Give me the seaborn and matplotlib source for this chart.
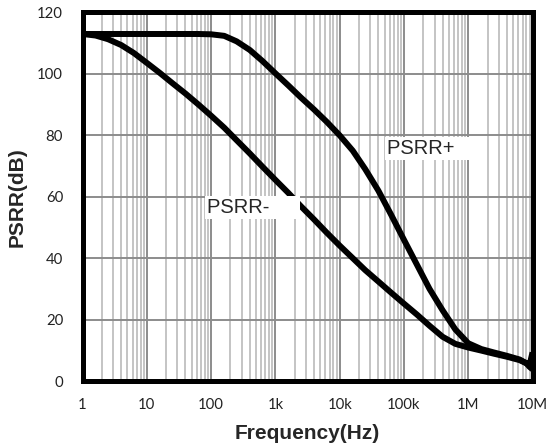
import numpy as np
import pandas as pd
import matplotlib
matplotlib.use("Agg")
import matplotlib.pyplot as plt
import seaborn as sns
from matplotlib.ticker import FixedLocator, NullFormatter, LogLocator

freq_plus = [1, 10, 63, 100, 160, 250, 400, 630, 1000, 1600, 2500, 4000, 6300,
             1e4, 1.6e4, 2.5e4, 4e4, 6.3e4, 1e5, 1.6e5, 2.5e5, 4e5, 6.3e5,
             1e6, 1.6e6, 2.5e6, 4e6, 6.3e6, 8e6, 9e6, 1e7]
psrr_plus = [113, 113, 113, 112.9, 112.4, 110.6, 107.8, 104.2, 100.2, 96.2, 92.3, 88.4, 84.4,
             80.0, 75.0, 69.0, 62.0, 54.2, 46.0, 37.8, 30.0, 23.0, 16.8,
             12.3, 10.4, 9.3, 8.2, 7.0, 5.8, 4.6, 3.8]

freq_minus = [1, 1.6, 2.5, 4, 6.3, 10, 16, 25, 40, 63, 100, 160, 250, 400, 630,
              1000, 1600, 2500, 4000, 6300, 1e4, 1.6e4, 2.5e4, 4e4, 6.3e4,
              1e5, 1.6e5, 2.5e5, 4e5, 6.3e5, 1e6, 1.6e6, 2.5e6, 4e6, 6.3e6, 8e6, 9e6, 1e7]
psrr_minus = [113, 112.5, 111.3, 109.4, 106.8, 103.6, 100.3, 97.0, 93.6, 90.1, 86.4, 82.5,
              78.4, 74.1, 69.8, 65.5, 61.2, 56.9, 52.6, 48.3, 44.1, 40.0, 36.1, 32.4, 28.8,
              25.2, 21.6, 18.0, 14.4, 12.1, 10.9, 9.9, 8.9, 7.9, 6.8, 5.8, 5.2, 9.3]

x_ticks = [1, 10, 100, 1e3, 1e4, 1e5, 1e6, 1e7]
x_labels = ["1", "10", "100", "1k", "10k", "100k", "1M", "10M"]
y_ticks = [0, 20, 40, 60, 80, 100, 120]

df = pd.concat([
    pd.DataFrame({"f": freq_plus, "v": psrr_plus, "s": "PSRR+"}),
    pd.DataFrame({"f": freq_minus, "v": psrr_minus, "s": "PSRR-"}),
])

sns.set_style("white")
plt.rcParams["font.family"] = ["Liberation Sans", "DejaVu Sans"]

fig = plt.figure(figsize=(5.52, 4.48), dpi=100)
ax = fig.add_axes([82.5/552, 67/448, 450/552, 368.5/448])
ax.set_xscale("log")
sns.lineplot(data=df, x="f", y="v", units="s", estimator=None, color="black",
             linewidth=4.3, ax=ax, legend=False, sort=False, zorder=3)
for ln in ax.get_lines():
    ln.set_solid_capstyle("butt")
    ln.set_solid_joinstyle("round")

ax.set_xlim(1, 1e7)
ax.set_ylim(0, 120)
ax.xaxis.set_major_locator(FixedLocator(x_ticks))
ax.set_xticklabels(x_labels)
ax.xaxis.set_minor_locator(LogLocator(base=10, subs=np.arange(2, 10), numticks=20))
ax.xaxis.set_minor_formatter(NullFormatter())
ax.set_yticks(y_ticks)
ax.grid(True, which="minor", axis="x", color="#bfbfbf", linewidth=1.3, zorder=0)
ax.grid(True, which="major", axis="x", color="#8c8c8c", linewidth=1.4, zorder=0)
ax.grid(True, which="major", axis="y", color="#8c8c8c", linewidth=1.4, zorder=0)
ax.tick_params(axis="both", which="both", length=0, labelsize=10.7, colors="#222222")
ax.tick_params(axis="x", pad=12)
ax.tick_params(axis="y", pad=14)
for lab in ax.get_xticklabels() + ax.get_yticklabels():
    lab.set_family(["Lato", "DejaVu Sans"])
for sp in ax.spines.values():
    sp.set_visible(True)
    sp.set_color("black")
    sp.set_linewidth(3.6)
    sp.set_zorder(5)

ax.set_xlabel("Frequency(Hz)", fontsize=15, fontweight="bold")
ax.set_ylabel("PSRR(dB)", fontsize=15, fontweight="bold")
ax.xaxis.set_label_coords(0.5, -0.118)
ax.yaxis.set_label_coords(-0.125, 0.5)

ax.text(5.4e4, 75.7, "PSRR+    ", fontsize=14.5, ha="left", va="center", zorder=4,
        bbox=dict(facecolor="white", edgecolor="none", pad=1.5))
ax.text(87, 56.6, "PSRR-     ", fontsize=14.5, ha="left", va="center", zorder=4,
        bbox=dict(facecolor="white", edgecolor="none", pad=1.5))

fig.savefig("out.png", dpi=100)
